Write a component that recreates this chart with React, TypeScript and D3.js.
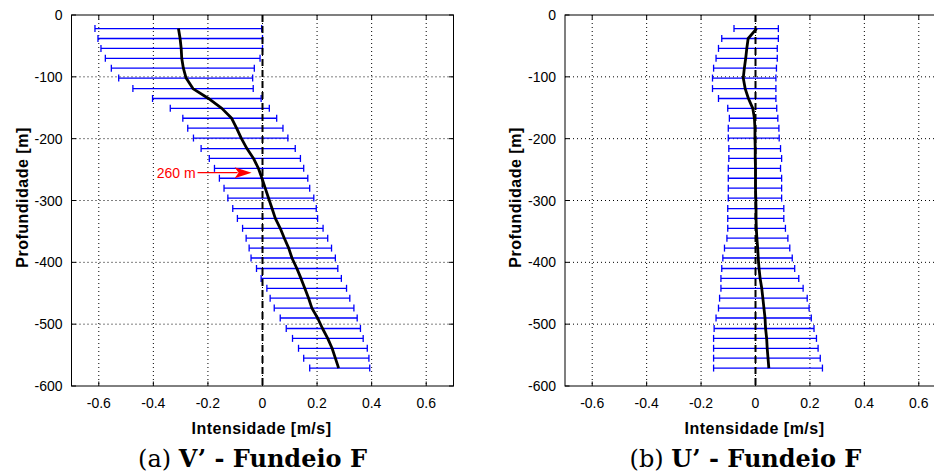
import React from "react";
import * as d3 from "d3";

// Depth of each bin (m)
const depths = [-22, -38, -54, -70, -86, -102, -119, -135, -151, -167, -183, -199, -216, -232, -248, -264, -280, -296, -313, -329, -345, -361, -377, -393, -410, -426, -442, -458, -474, -490, -507, -523, -539, -555, -571];

// Panel (a) V'
const vMean = [-0.308, -0.302, -0.298, -0.296, -0.29, -0.28, -0.255, -0.198, -0.149, -0.113, -0.095, -0.078, -0.057, -0.033, -0.015, -0.002, 0.01, 0.022, 0.035, 0.047, 0.065, 0.08, 0.096, 0.108, 0.126, 0.141, 0.155, 0.169, 0.181, 0.202, 0.22, 0.239, 0.255, 0.267, 0.279];
const vLow = [-0.614, -0.603, -0.592, -0.576, -0.554, -0.527, -0.475, -0.403, -0.338, -0.292, -0.274, -0.253, -0.225, -0.195, -0.176, -0.158, -0.141, -0.127, -0.109, -0.092, -0.073, -0.06, -0.049, -0.042, -0.022, -0.005, 0.016, 0.028, 0.043, 0.065, 0.087, 0.11, 0.132, 0.151, 0.173];
const vHigh = [-0.003, 0.0, 0.0, -0.009, -0.03, -0.036, -0.034, -0.005, 0.025, 0.052, 0.075, 0.093, 0.12, 0.139, 0.151, 0.166, 0.173, 0.188, 0.197, 0.202, 0.222, 0.239, 0.253, 0.267, 0.276, 0.289, 0.308, 0.32, 0.335, 0.347, 0.359, 0.369, 0.384, 0.39, 0.393];

// Panel (b) U'
const uMean = [0.004, -0.027, -0.032, -0.036, -0.041, -0.045, -0.038, -0.026, -0.01, -0.004, -0.002, -0.002, -0.001, -0.001, 0, 0, 0, 0.001, 0.002, 0.002, 0.003, 0.005, 0.008, 0.01, 0.013, 0.017, 0.023, 0.027, 0.031, 0.035, 0.037, 0.041, 0.043, 0.046, 0.049];
const uLow = [-0.079, -0.124, -0.136, -0.145, -0.154, -0.158, -0.158, -0.136, -0.102, -0.096, -0.1, -0.1, -0.098, -0.098, -0.1, -0.1, -0.1, -0.1, -0.102, -0.102, -0.102, -0.105, -0.114, -0.12, -0.124, -0.127, -0.127, -0.132, -0.136, -0.145, -0.152, -0.154, -0.154, -0.154, -0.154];
const uHigh = [0.084, 0.084, 0.08, 0.08, 0.077, 0.075, 0.075, 0.075, 0.078, 0.082, 0.086, 0.087, 0.092, 0.096, 0.092, 0.096, 0.096, 0.096, 0.104, 0.104, 0.11, 0.119, 0.126, 0.135, 0.144, 0.159, 0.175, 0.19, 0.197, 0.205, 0.215, 0.224, 0.23, 0.238, 0.246];

const xTicks = [-0.6, -0.4, -0.2, 0, 0.2, 0.4, 0.6];
const yTicks = [0, -100, -200, -300, -400, -500, -600];
const xDomain = [-0.7, 0.7];
const yDomain = [-600, 0];

const xLabel = "Intensidade [m/s]";
const yLabel = "Profundidade [m]";

// Annotation (panel a)
const annotText = "260 m";
const annotDepth = -255;
const annotTextEnd = -0.245;
const annotArrowFrom = -0.238;
const annotArrowTip = -0.04;

const SANS = "'Liberation Sans', Arial, Helvetica, sans-serif";
const SERIF = "'DejaVu Serif', serif";

type PanelProps = {
  x0: number;
  x1: number;
  mean: number[];
  low: number[];
  high: number[];
  tag: string;
  title: string;
  annotate?: boolean;
};

function Panel({ x0, x1, mean, low, high, tag, title, annotate }: PanelProps) {
  const x = d3.scaleLinear().domain(xDomain).range([x0, x1]);
  const y = d3.scaleLinear().domain(yDomain).range([386, 15]);
  const [yb, yt] = y.range();
  const line = d3
    .line<number>()
    .x((d) => x(d))
    .y((_, i) => y(depths[i]));
  const tickLen = 4.5;
  const cap = 3.5;
  const cx = x(0);
  return (
    <g>
      {/* grid */}
      {xTicks.map((t) => (
        <line key={"gx" + t} x1={x(t)} x2={x(t)} y1={yt} y2={yb} stroke="#000" strokeWidth={1} strokeDasharray="1,3" />
      ))}
      {yTicks.slice(1, -1).map((t) => (
        <line key={"gy" + t} x1={x0} x2={x1} y1={y(t)} y2={y(t)} stroke="#000" strokeWidth={1} strokeDasharray="1,3" />
      ))}
      {/* error bars */}
      {depths.map((dp, i) => (
        <g key={"eb" + i} stroke="#0000ff" strokeWidth={1.3}>
          <line x1={x(low[i])} x2={x(high[i])} y1={y(dp)} y2={y(dp)} />
          <line x1={x(low[i])} x2={x(low[i])} y1={y(dp) - cap} y2={y(dp) + cap} />
          <line x1={x(high[i])} x2={x(high[i])} y1={y(dp) - cap} y2={y(dp) + cap} />
        </g>
      ))}
      {/* zero dashed line */}
      <line x1={cx} x2={cx} y1={yt} y2={yb} stroke="#000" strokeWidth={2} strokeDasharray="7,4" />
      {/* mean profile */}
      <path d={line(mean) || ""} fill="none" stroke="#000" strokeWidth={2.8} strokeLinejoin="round" />
      {/* box */}
      <rect x={x0} y={yt} width={x1 - x0} height={yb - yt} fill="none" stroke="#000" strokeWidth={1} />
      {/* ticks */}
      {xTicks.map((t) => (
        <g key={"tx" + t} stroke="#000">
          <line x1={x(t)} x2={x(t)} y1={yb} y2={yb - tickLen} />
          <line x1={x(t)} x2={x(t)} y1={yt} y2={yt + tickLen} />
        </g>
      ))}
      {yTicks.map((t) => (
        <g key={"ty" + t} stroke="#000">
          <line x1={x0} x2={x0 + tickLen} y1={y(t)} y2={y(t)} />
          <line x1={x1} x2={x1 - tickLen} y1={y(t)} y2={y(t)} />
        </g>
      ))}
      {/* tick labels */}
      {xTicks.map((t) => (
        <text key={"lx" + t} x={x(t)} y={408} textAnchor="middle" fontFamily={SANS} fontSize={14} fill="#000">
          {String(t)}
        </text>
      ))}
      {yTicks.map((t) => (
        <text key={"ly" + t} x={x0 - 9} y={y(t) + 5} textAnchor="end" fontFamily={SANS} fontSize={14} fill="#000">
          {String(t)}
        </text>
      ))}
      {/* axis labels */}
      <text x={(x0 + x1) / 2 - 1} y={434} textAnchor="middle" fontFamily={SANS} fontWeight="bold" fontSize={16} letterSpacing={0.5} fill="#000">
        {xLabel}
      </text>
      <text
        transform={`translate(${x0 - 44},${(yt + yb) / 2 - 3}) rotate(-90)`}
        textAnchor="middle"
        fontFamily={SANS}
        fontWeight="bold"
        fontSize={16}
        letterSpacing={0.5}
        fill="#000"
      >
        {yLabel}
      </text>
      {/* caption */}
      <text x={(x0 + x1) / 2 - 10} y={467} textAnchor="middle" fontFamily={SERIF} fontSize={24} fill="#000">
        <tspan>{tag} </tspan>
        <tspan fontWeight="bold">{title}</tspan>
      </text>
      {annotate && (
        <g>
          <text x={x(annotTextEnd)} y={y(annotDepth) + 5} textAnchor="end" fontFamily={SANS} fontSize={14} fill="#ff0000">
            {annotText}
          </text>
          <line x1={x(annotArrowFrom)} x2={x(annotArrowTip) - 14} y1={y(annotDepth)} y2={y(annotDepth)} stroke="#ff0000" strokeWidth={1.2} />
          <path
            d={`M${x(annotArrowTip)},${y(annotDepth)} L${x(annotArrowTip) - 17},${y(annotDepth) - 5.5} L${x(annotArrowTip) - 13},${y(annotDepth)} L${x(annotArrowTip) - 17},${y(annotDepth) + 5.5} Z`}
            fill="#ff0000"
          />
        </g>
      )}
    </g>
  );
}

export default function App() {
  return (
    <svg width={934} height={475} style={{ position: "fixed", left: 0, top: 0, background: "#fff" }}>
      <rect x={0} y={0} width={934} height={475} fill="#fff" />
      <Panel x0={71.5} x1={453.5} mean={vMean} low={vLow} high={vHigh} tag="(a)" title="V’ - Fundeio F" annotate />
      <Panel x0={565} x1={946} mean={uMean} low={uLow} high={uHigh} tag="(b)" title="U’ - Fundeio F" />
    </svg>
  );
}
